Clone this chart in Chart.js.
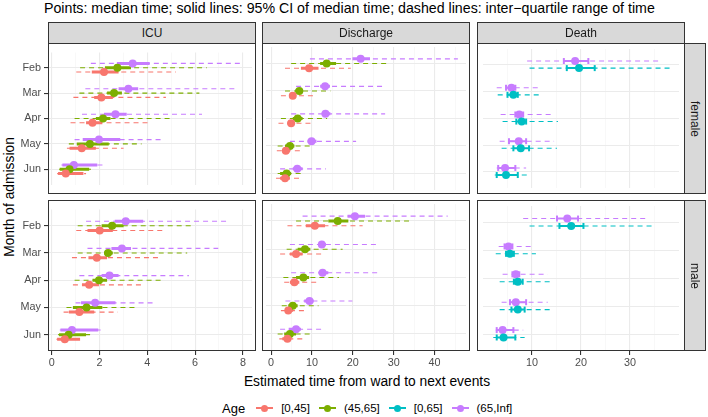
<!DOCTYPE html>
<html>
<head>
<meta charset="utf-8">
<script src="https://cdn.jsdelivr.net/npm/chart.js@4.4.1/dist/chart.umd.min.js"></script>
<style>
body { margin: 0; background: #fff; font-family: "Liberation Sans", Arial, sans-serif; }
#wrap { position: relative; width: 708px; height: 417px; overflow: hidden; }
#wrap canvas { position: absolute; }
.txt { position: absolute; white-space: nowrap; color: #000; }
.strip { position: absolute; box-sizing: border-box; background: #D9D9D9; border: 1px solid #333;
         display: flex; align-items: center; justify-content: center; font-size: 12px; color: #1A1A1A; }
.frame { position: absolute; box-sizing: border-box; border: 1px solid #333; pointer-events: none; }
#legend { position: absolute; top: 399px; left: 222px; display: flex; align-items: center; height: 18px; }
#legend .key { position: relative; width: 17px; height: 18px; margin-right: 8px; }
#legend .key i { position: absolute; left: 0; right: 0; top: 8px; height: 2px; }
#legend .key b { position: absolute; left: 5px; top: 6px; width: 7px; height: 7px; border-radius: 50%; }
#legend span.lab { font-size: 11.5px; margin-right: 9px; }
</style>
</head>
<body>
<div id="wrap">
  <div class="txt" style="left:44px; top:0px; font-size:14.2px;">Points: median time; solid lines: 95% CI of median time; dashed lines: inter−quartile range of time</div>
  <div class="txt" style="left:367px; top:374px; font-size:13.8px; transform:translateX(-50%);">Estimated time from ward to next events</div>
  <div class="txt" style="left:9px; top:197px; font-size:13.8px; transform:translate(-50%,-50%) rotate(-90deg);">Month of admission</div>
  <div id="legend"><span class="txt" style="position:static; font-size:13px; margin-right:11px;">Age</span></div>
</div>
<script>
// mois et groupes d'age
const months = ['Feb', 'Mar', 'Apr', 'May', 'Jun'];
const ageLabels = ['[0,45]', '(45,65]', '[0,65]', '(65,Inf]'];
const ageColors = ['#F8766D', '#7CAE00', '#00BFC4', '#C77CFF'];
const events = ['ICU', 'Discharge', 'Death'];
const sexes = ['female', 'male'];

// graduations de l'axe x par panneau
const icuTicks = [0, 2, 4, 6, 8];
const icuMinor = [1, 3, 5, 7];
const dischargeTicks = [0, 10, 20, 30, 40];
const dischargeMinor = [5, 15, 25, 35, 45];
const deathTicks = [10, 20, 30];
const deathMinor = [5, 15, 25, 35];

// chaque ligne = un mois (Feb..Jun): [IQR bas, IC bas, mediane, IC haut, IQR haut]
const icuFemale0_45 = [[1.03, 1.68, 2.19, 2.80, 5.20], [0.91, 1.78, 2.08, 2.56, 4.78], [0.79, 1.44, 1.71, 2.12, 4.07], [0.64, 0.75, 1.26, 1.85, 3.01], [0.23, 0.27, 0.59, 1.33, 1.44]];
const icuFemale45_65 = [[1.19, 2.23, 2.75, 3.32, 6.49], [1.16, 2.32, 2.61, 2.94, 6.18], [0.96, 1.85, 2.15, 2.46, 5.10], [0.72, 1.05, 1.60, 2.39, 3.76], [0.31, 0.34, 0.75, 1.57, 1.78]];
const icuFemale65 = [[1.64, 2.73, 3.39, 4.10, 8.00], [1.41, 2.80, 3.21, 3.62, 7.66], [1.27, 2.19, 2.67, 3.14, 6.29], [0.96, 1.30, 1.98, 2.87, 4.65], [0.41, 0.45, 0.93, 1.91, 2.23]];
const icuMale0_45 = [[1.03, 1.50, 2.01, 2.56, 4.76], [0.85, 1.54, 1.89, 2.32, 4.51], [0.89, 1.27, 1.57, 1.98, 3.76], [0.50, 0.72, 1.16, 1.78, 2.77], [0.20, 0.23, 0.55, 1.19, 1.30]];
const icuMale45_65 = [[1.09, 2.09, 2.53, 3.01, 5.95], [1.09, 2.19, 2.36, 2.56, 5.67], [0.96, 1.71, 1.98, 2.32, 4.65], [0.62, 0.89, 1.46, 2.12, 3.49], [0.27, 0.31, 0.71, 1.44, 1.64]];
const icuMale65 = [[1.44, 2.64, 3.10, 3.83, 7.34], [1.50, 2.50, 2.94, 3.32, 6.97], [1.16, 2.09, 2.42, 2.80, 5.74], [1.00, 1.23, 1.82, 2.67, 4.28], [0.34, 0.37, 0.85, 1.95, 2.05]];

const disFemale0_45 = [[3.4, 7.3, 9.3, 11.6, 19.5], [2.4, 4.6, 5.3, 6.1, 11.1], [1.8, 4.0, 4.9, 5.7, 10.4], [1.4, 2.75, 3.6, 4.6, 7.7], [1.2, 2.2, 3.4, 4.6, 7.2]];
const disFemale45_65 = [[4.9, 12.0, 13.6, 15.9, 28.5], [3.4, 5.9, 6.9, 7.7, 14.5], [2.4, 5.3, 6.5, 7.7, 13.7], [1.6, 3.4, 4.6, 5.7, 9.5], [1.6, 2.2, 3.8, 4.9, 7.9]];
const disFemale65 = [[9.5, 19.9, 21.9, 24.2, 45.7], [6.1, 12.0, 13.2, 14.4, 27.3], [4.9, 12.4, 13.3, 14.5, 27.9], [4.6, 8.9, 9.9, 11.1, 20.8], [2.2, 5.3, 6.4, 7.7, 13.4]];
const disMale0_45 = [[4.0, 8.5, 10.7, 13.2, 22.4], [2.2, 4.6, 6.1, 7.7, 12.8], [3.2, 4.6, 5.7, 6.9, 12.0], [2.4, 3.4, 4.2, 5.3, 8.9], [2.0, 2.75, 4.0, 4.9, 8.1]];
const disMale45_65 = [[6.1, 14.0, 16.3, 18.9, 34.4], [3.8, 6.5, 8.3, 9.6, 17.5], [3.0, 6.1, 7.9, 9.3, 16.6], [2.6, 4.2, 5.3, 6.5, 11.6], [1.6, 3.2, 4.6, 6.1, 9.6]];
const disMale65 = [[7.7, 18.7, 20.5, 23.0, 43.2], [4.6, 11.6, 12.4, 13.4, 26.0], [4.9, 11.6, 12.6, 14.0, 26.5], [3.5, 8.1, 9.4, 10.4, 19.9], [2.2, 4.3, 6.1, 7.3, 12.6]];

const deathFemale0_65 = [[9.5, 17.1, 19.6, 22.8, 38.3], [3.0, 5.0, 6.2, 7.1, 12.1], [4.0, 6.8, 7.9, 8.8, 15.3], [3.8, 6.2, 7.7, 9.4, 15.1], [2.4, 2.8, 4.7, 7.1, 9.4]];
const deathFemale65 = [[9.0, 16.5, 18.8, 21.5, 36.4], [2.8, 4.7, 5.8, 6.6, 11.4], [3.6, 6.6, 7.4, 8.2, 14.5], [3.4, 5.3, 7.3, 8.8, 14.5], [2.8, 3.1, 4.5, 6.6, 8.8]];
const deathMale0_65 = [[9.5, 15.6, 18.0, 20.5, 35.0], [2.6, 4.7, 5.5, 6.3, 10.8], [3.4, 6.3, 7.1, 8.1, 14.0], [3.4, 5.8, 7.1, 8.5, 13.8], [2.1, 2.8, 4.2, 6.6, 8.5]];
const deathMale65 = [[8.2, 15.1, 17.2, 19.4, 33.3], [3.2, 4.4, 5.2, 6.0, 10.5], [4.0, 6.0, 6.7, 7.4, 13.2], [3.8, 5.5, 6.7, 8.8, 13.2], [2.6, 2.8, 4.0, 6.2, 8.2]];

// mise en page des panneaux (pixels)
const colLeft = [48, 262, 477];
const rowTop = [43, 200];
const panelW = 208, panelH = 151;
const yAxisW = 48, xAxisH = 30;

const panels = [
    { ev: 0, sex: 0, min: -0.152, max: 8.381, ticks: icuTicks, minor: icuMinor, groups: [[0, icuFemale0_45, 0.17], [1, icuFemale45_65, 0], [3, icuFemale65, -0.17]] },
    { ev: 1, sex: 0, min: -1.25, max: 47.69, ticks: dischargeTicks, minor: dischargeMinor, groups: [[0, disFemale0_45, 0.17], [1, disFemale45_65, 0], [3, disFemale65, -0.17]] },
    { ev: 2, sex: 0, min: 0, max: 40, ticks: deathTicks, minor: deathMinor, groups: [[2, deathFemale0_65, 0.115], [3, deathFemale65, -0.15]] },
    { ev: 0, sex: 1, min: -0.152, max: 8.381, ticks: icuTicks, minor: icuMinor, groups: [[0, icuMale0_45, 0.17], [1, icuMale45_65, 0], [3, icuMale65, -0.17]] },
    { ev: 1, sex: 1, min: -1.25, max: 47.69, ticks: dischargeTicks, minor: dischargeMinor, groups: [[0, disMale0_45, 0.17], [1, disMale45_65, 0], [3, disMale65, -0.17]] },
    { ev: 2, sex: 1, min: 0, max: 40, ticks: deathTicks, minor: deathMinor, groups: [[2, deathMale0_65, 0.115], [3, deathMale65, -0.15]] }
];

const wrap = document.getElementById('wrap');

function segData(rows, a, b, off) {
    const out = [];
    rows.forEach((r, i) => {
        out.push({ x: r[a], y: i + 1 + off }, { x: r[b], y: i + 1 + off }, { x: null, y: null });
    });
    return out;
}

function makePanel(p) {
    const left = p.ev === 0, bottom = p.sex === 1;
    const isDeath = p.ev === 2;
    const cv = document.createElement('canvas');
    const w = panelW + (left ? yAxisW : 0);
    const h = panelH + (bottom ? xAxisH : 0);
    cv.width = w; cv.height = h;
    cv.style.left = (colLeft[p.ev] - (left ? yAxisW : 0)) + 'px';
    cv.style.top = rowTop[p.sex] + 'px';
    wrap.appendChild(cv);

    const datasets = [];
    p.groups.forEach(([age, rows, off]) => {
        const col = ageColors[age];
        datasets.push({
            type: 'line', data: segData(rows, 0, 4, off), borderColor: col, borderWidth: 1.1,
            borderDash: [5, 4], pointRadius: 0, order: 3
        });
        datasets.push({
            type: 'line', data: segData(rows, 1, 3, off), borderColor: col,
            borderWidth: isDeath ? 2 : 3, borderCapStyle: 'butt',
            pointStyle: 'line', rotation: 90, pointRadius: isDeath ? 3 : 0,
            pointBorderWidth: 2, pointBorderColor: col, order: 2
        });
        datasets.push({
            type: 'scatter', data: rows.map((r, i) => ({ x: r[2], y: i + 1 + off })),
            backgroundColor: col, borderWidth: 0, pointRadius: 4, order: 1
        });
    });

    const allX = p.ticks.concat(p.minor).sort((a, b) => a - b);

    new Chart(cv, {
        type: 'scatter',
        data: { datasets },
        options: {
            responsive: false,
            animation: false,
            layout: { padding: 0 },
            plugins: { legend: { display: false }, tooltip: { enabled: false } },
            scales: {
                x: {
                    type: 'linear', min: p.min, max: p.max,
                    afterBuildTicks: s => { s.ticks = allX.map(v => ({ value: v })); },
                    afterFit: s => { s.height = bottom ? xAxisH : 0; },
                    border: { display: false },
                    grid: {
                        color: c => p.ticks.includes(c.tick.value) ? '#EBEBEB' : '#F4F4F4',
                        lineWidth: c => p.ticks.includes(c.tick.value) ? 1.1 : 0.6,
                        drawTicks: bottom, tickLength: 4,
                        tickColor: c => p.ticks.includes(c.tick.value) ? '#333333' : 'rgba(0,0,0,0)'
                    },
                    ticks: {
                        display: bottom, autoSkip: false, maxRotation: 0, padding: 2,
                        color: '#4D4D4D', font: { family: 'Liberation Sans', size: 10.8 },
                        callback: v => p.ticks.includes(v) ? String(v) : ''
                    }
                },
                y: {
                    type: 'linear', min: 0.4, max: 5.6, reverse: true,
                    afterBuildTicks: s => { s.ticks = months.map((m, i) => ({ value: i + 1 })); },
                    afterFit: s => { s.width = left ? yAxisW : 0; },
                    border: { display: false },
                    grid: { color: '#EBEBEB', lineWidth: 1.1, drawTicks: left, tickLength: 4, tickColor: '#333333' },
                    ticks: {
                        display: left, padding: 3, color: '#4D4D4D',
                        font: { family: 'Liberation Sans', size: 10.8 },
                        callback: (v, i) => months[i]
                    }
                }
            }
        }
    });

    const fr = document.createElement('div');
    fr.className = 'frame';
    fr.style.cssText = `left:${colLeft[p.ev]}px;top:${rowTop[p.sex]}px;width:${panelW}px;height:${panelH}px;`;
    wrap.appendChild(fr);
}

panels.forEach(makePanel);

// bandeaux des facettes
events.forEach((ev, i) => {
    const d = document.createElement('div');
    d.className = 'strip';
    d.style.cssText = `left:${colLeft[i]}px;top:22px;width:${panelW}px;height:22px;`;
    d.textContent = ev;
    wrap.appendChild(d);
});
sexes.forEach((s, i) => {
    const d = document.createElement('div');
    d.className = 'strip';
    d.style.cssText = `left:${colLeft[2] + panelW - 1}px;top:${rowTop[i]}px;width:22px;height:${panelH}px;`;
    const t = document.createElement('span');
    t.style.transform = 'rotate(90deg)';
    t.style.display = 'inline-block';
    t.textContent = s;
    d.appendChild(t);
    wrap.appendChild(d);
});

// legende
const lg = document.getElementById('legend');
ageLabels.forEach((lab, i) => {
    const k = document.createElement('span');
    k.className = 'key';
    k.innerHTML = `<i style="background:${ageColors[i]}"></i><b style="background:${ageColors[i]}"></b>`;
    lg.appendChild(k);
    const t = document.createElement('span');
    t.className = 'lab';
    t.textContent = lab;
    lg.appendChild(t);
});
</script>
</body>
</html>
